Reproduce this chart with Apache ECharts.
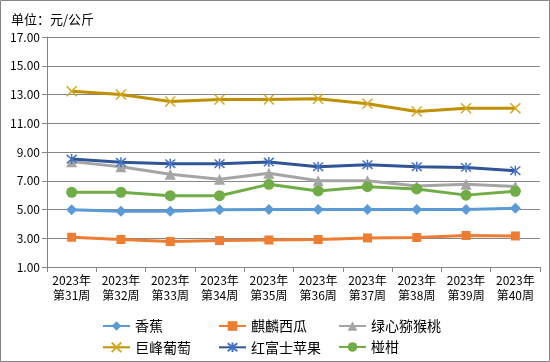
<!DOCTYPE html>
<html><head><meta charset="utf-8">
<script src="https://cdn.jsdelivr.net/npm/echarts@6/dist/echarts.min.js"></script>
<style>html,body{margin:0;padding:0;background:#fff}#c{width:550px;height:362px}</style>
</head><body><div id="c"></div>
<script>
const categories = ['2023年\n第31周','2023年\n第32周','2023年\n第33周','2023年\n第34周','2023年\n第35周','2023年\n第36周','2023年\n第37周','2023年\n第38周','2023年\n第39周','2023年\n第40周'];
const banana = [4.98, 4.87, 4.87, 4.98, 5.00, 5.00, 5.00, 5.00, 5.00, 5.09];
const watermelon = [3.07, 2.91, 2.77, 2.84, 2.88, 2.91, 3.02, 3.05, 3.19, 3.16];
const kiwi = [8.33, 7.98, 7.45, 7.10, 7.52, 7.00, 7.00, 6.63, 6.75, 6.60];
const grape = [13.23, 13.00, 12.51, 12.65, 12.65, 12.70, 12.35, 11.82, 12.05, 12.05];
const apple = [8.51, 8.28, 8.19, 8.19, 8.30, 7.98, 8.12, 7.98, 7.93, 7.70];
const orange = [6.20, 6.20, 5.96, 5.96, 6.75, 6.29, 6.59, 6.43, 6.00, 6.27];
const names = ['香蕉','麒麟西瓜','绿心猕猴桃','巨峰葡萄','红富士苹果','椪柑'];

const FONT = '"Noto Sans CJK SC", sans-serif';
const crossPath = 'path://M0,0L10,10M10,0L0,10';
const starPath = 'path://M0,0L10,10M10,0L0,10M5,-1L5,11';

function mk(name, data, color, symbol, size, extra) {
  return Object.assign({
    name, type: 'line', data, symbol, symbolSize: size,
    lineStyle: { color, width: 3 },
    itemStyle: { color },
    emphasis: { disabled: true },
    z: 3
  }, extra || {});
}
const series = [
  mk(names[0], banana, '#5B9BD5', 'diamond', 11),
  mk(names[1], watermelon, '#ED7D31', 'rect', 9),
  mk(names[2], kiwi, '#A5A5A5', 'triangle', 11),
  mk(names[3], grape, '#BF9000', crossPath, 10, { itemStyle: { color: 'none', borderColor: '#D4A71E', borderWidth: 1.5 } }),
  mk(names[4], apple, '#2F5597', starPath, 10, { itemStyle: { color: 'none', borderColor: '#4472C4', borderWidth: 1.5 } }),
  mk(names[5], orange, '#70AD47', 'circle', 11)
];

const legPos = [[97,314],[213,314],[333,314],[97,335],[213,335],[333,335]];
const legends = names.map((n, i) => ({
  data: [n], left: legPos[i][0], top: legPos[i][1],
  itemWidth: 27, itemHeight: 12, itemGap: 4,
  textStyle: { fontFamily: FONT, fontSize: 14, color: '#000' },
  selectedMode: false
}));

const chart = echarts.init(document.getElementById('c'), null, { renderer: 'canvas' });
chart.setOption({
  animation: false,
  backgroundColor: '#fff',
  title: { text: '单位：元/公斤', left: 6, top: 8, textStyle: { fontFamily: FONT, fontSize: 13, fontWeight: 'normal', color: '#000' } },
  legend: legends,
  grid: { left: 47, right: 10, top: 37, bottom: 95, containLabel: false },
  xAxis: {
    type: 'category', data: categories, boundaryGap: true,
    axisLine: { lineStyle: { color: '#868686', width: 1 } },
    axisTick: { show: true, interval: 0, length: 5, lineStyle: { color: '#868686' } },
    axisLabel: { interval: 0, fontFamily: FONT, fontSize: 12, color: '#000', lineHeight: 15, margin: 6 }
  },
  yAxis: {
    type: 'value', min: 1, max: 17, interval: 2,
    axisLine: { show: true, lineStyle: { color: '#868686' } },
    axisTick: { show: true, length: 5, lineStyle: { color: '#868686' } },
    splitLine: { lineStyle: { color: '#868686', width: 1 } },
    axisLabel: { formatter: v => v.toFixed(2), fontFamily: FONT, fontSize: 12, color: '#000', margin: 7 }
  },
  graphic: [{ type: 'rect', shape: { x: 0.5, y: 0.5, width: 549, height: 361 }, style: { fill: 'none', stroke: '#868686', lineWidth: 1 }, silent: true, z: -1 }],
  series
});
</script></body></html>
